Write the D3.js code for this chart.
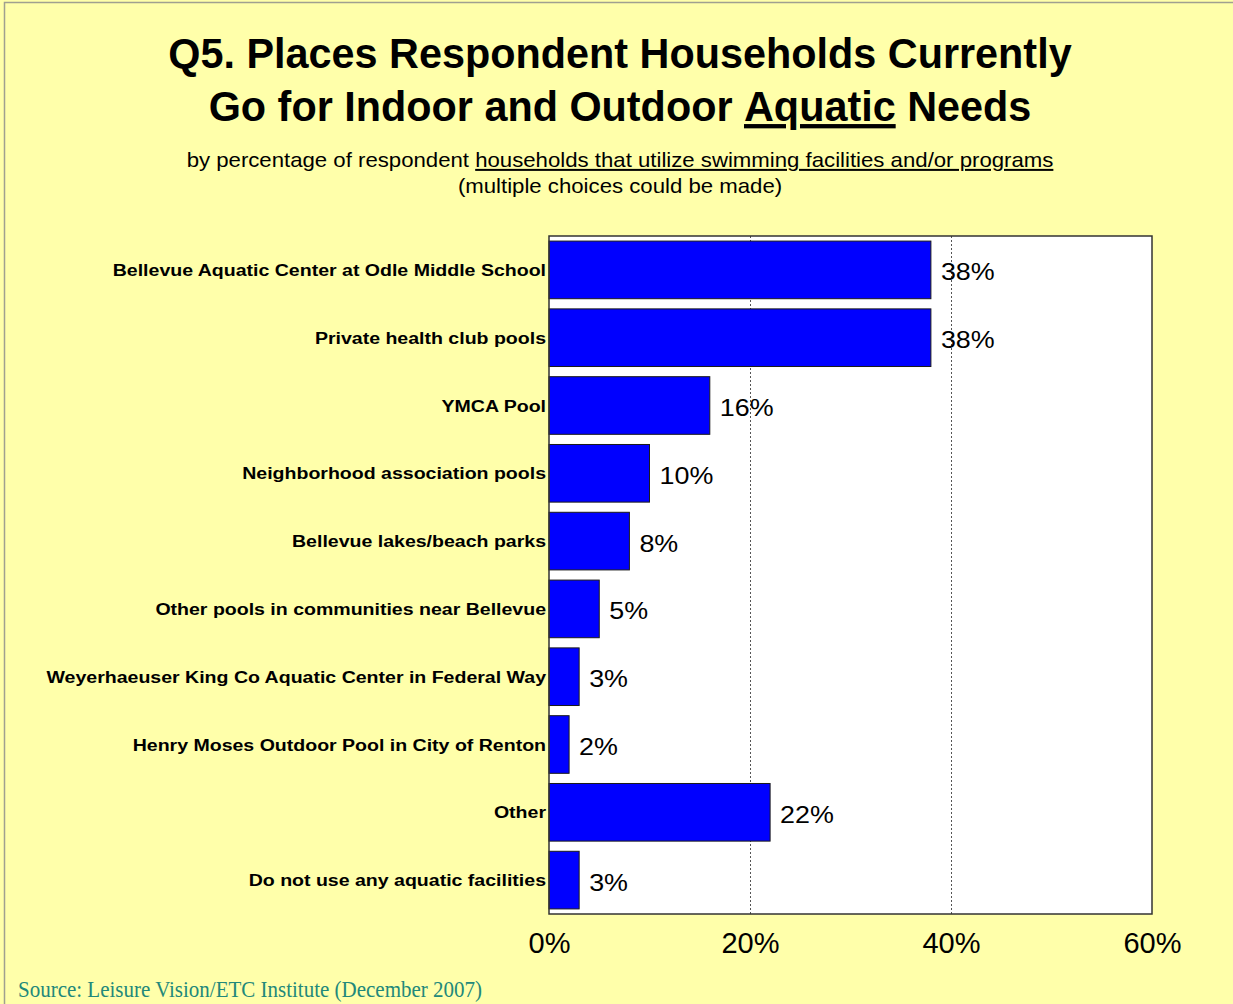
<!DOCTYPE html>
<html>
<head>
<meta charset="utf-8">
<script src="https://cdn.jsdelivr.net/npm/d3@7"></script>
<style>
  html, body { margin: 0; padding: 0; background: #ffffff; }
  svg { display: block; }
</style>
</head>
<body>
<script>
// Survey answers: where households go for aquatic needs (percent of respondents)
const categories = [
  "Bellevue Aquatic Center at Odle Middle School",
  "Private health club pools",
  "YMCA Pool",
  "Neighborhood association pools",
  "Bellevue lakes/beach parks",
  "Other pools in communities near Bellevue",
  "Weyerhaeuser King Co Aquatic Center in Federal Way",
  "Henry Moses Outdoor Pool in City of Renton",
  "Other",
  "Do not use any aquatic facilities"
];
const values = [38, 38, 16, 10, 8, 5, 3, 2, 22, 3];
const tickValues = [0, 20, 40, 60];
const tickLabels = ["0%", "20%", "40%", "60%"];
const gridValues = [20, 40];

const W = 1233, H = 1004;
const plot = { left: 549, right: 1152, top: 236, bottom: 914 };

const svg = d3.select("body").append("svg")
  .attr("width", W).attr("height", H);

// page background and thin frame
svg.append("rect").attr("width", W).attr("height", H).attr("fill", "#ffffaa");
svg.append("rect").attr("x", 4.5).attr("y", 2.5).attr("width", W + 10).attr("height", H + 10)
  .attr("fill", "none").attr("stroke", "#a0a090").attr("stroke-width", 1.5);

const sans = "'Liberation Sans', Arial, sans-serif";

// title (slightly condensed)
const title = svg.append("text")
  .attr("transform", "translate(620,0) scale(0.962,1)")
  .attr("text-anchor", "middle")
  .attr("font-family", sans).attr("font-weight", "bold")
  .attr("font-size", 43).attr("fill", "#000");
title.append("tspan").attr("x", 0).attr("y", 68)
  .text("Q5. Places Respondent Households Currently");
const t2 = title.append("tspan").attr("x", 0).attr("y", 121);
t2.append("tspan").text("Go for Indoor and Outdoor ");
t2.append("tspan").attr("text-decoration", "underline").text("Aquatic");
t2.append("tspan").text(" Needs");

// subtitle (slightly widened)
const sub = svg.append("text")
  .attr("transform", "translate(620,0) scale(1.11,1)")
  .attr("text-anchor", "middle")
  .attr("font-family", sans).attr("font-size", 20).attr("fill", "#000");
const s1 = sub.append("tspan").attr("x", 0).attr("y", 167);
s1.append("tspan").text("by percentage of respondent ");
s1.append("tspan").attr("text-decoration", "underline")
  .text("households that utilize swimming facilities and/or programs");
sub.append("tspan").attr("x", 0).attr("y", 193).text("(multiple choices could be made)");

// scales
const x = d3.scaleLinear().domain([0, 60]).range([plot.left, plot.right]);
const y = d3.scaleBand().domain(categories).range([plot.top, plot.bottom])
  .paddingInner(0.15).paddingOuter(0.075);

// category labels (drawn before the plot so the plot area sits on top)
svg.append("g").selectAll("text").data(categories).join("text")
  .attr("transform", d => `translate(${plot.left - 3},${y(d) + y.bandwidth() / 2 + 6}) scale(1.15,1)`)
  .attr("text-anchor", "end")
  .attr("font-family", sans).attr("font-weight", "bold").attr("font-size", 17)
  .attr("fill", "#000")
  .text(d => d);

// plot area
svg.append("rect")
  .attr("x", plot.left).attr("y", plot.top)
  .attr("width", plot.right - plot.left).attr("height", plot.bottom - plot.top)
  .attr("fill", "#ffffff");

// dotted gridlines
svg.append("g").selectAll("line").data(gridValues).join("line")
  .attr("x1", d => x(d) + 0.5).attr("x2", d => x(d) + 0.5)
  .attr("y1", plot.top).attr("y2", plot.bottom)
  .attr("stroke", "#555").attr("stroke-width", 1).attr("stroke-dasharray", "2,2");

// bars
svg.append("g").selectAll("rect").data(categories).join("rect")
  .attr("x", x(0))
  .attr("y", d => y(d))
  .attr("width", (d, i) => x(values[i]) - x(0))
  .attr("height", y.bandwidth())
  .attr("fill", "#0000ff")
  .attr("stroke", "#1a1a1a").attr("stroke-width", 1);

// value labels
svg.append("g").selectAll("text").data(categories).join("text")
  .attr("transform", (d, i) => `translate(${x(values[i]) + 10},${y(d) + y.bandwidth() / 2 + 10.5}) scale(1.12,1)`)
  .attr("font-family", sans).attr("font-size", 24).attr("fill", "#000")
  .text((d, i) => values[i] + "%");

// plot frame
svg.append("rect")
  .attr("x", plot.left).attr("y", plot.top)
  .attr("width", plot.right - plot.left).attr("height", plot.bottom - plot.top)
  .attr("fill", "none").attr("stroke", "#333").attr("stroke-width", 1.5);

// x axis
const axis = svg.append("g")
  .attr("transform", `translate(0,${plot.bottom})`)
  .call(d3.axisBottom(x).tickValues(tickValues)
    .tickFormat((d, i) => tickLabels[i]).tickSize(0).tickPadding(18));
axis.select(".domain").remove();
axis.selectAll("text")
  .attr("font-family", sans).attr("font-size", 29).attr("fill", "#000");

// source note
svg.append("text")
  .attr("x", 18).attr("y", 997)
  .attr("font-family", "'Liberation Serif', 'Times New Roman', serif")
  .attr("font-size", 24).attr("fill", "#22887a")
  .attr("textLength", 464).attr("lengthAdjust", "spacingAndGlyphs")
  .text("Source:  Leisure Vision/ETC Institute (December 2007)");
</script>
</body>
</html>
